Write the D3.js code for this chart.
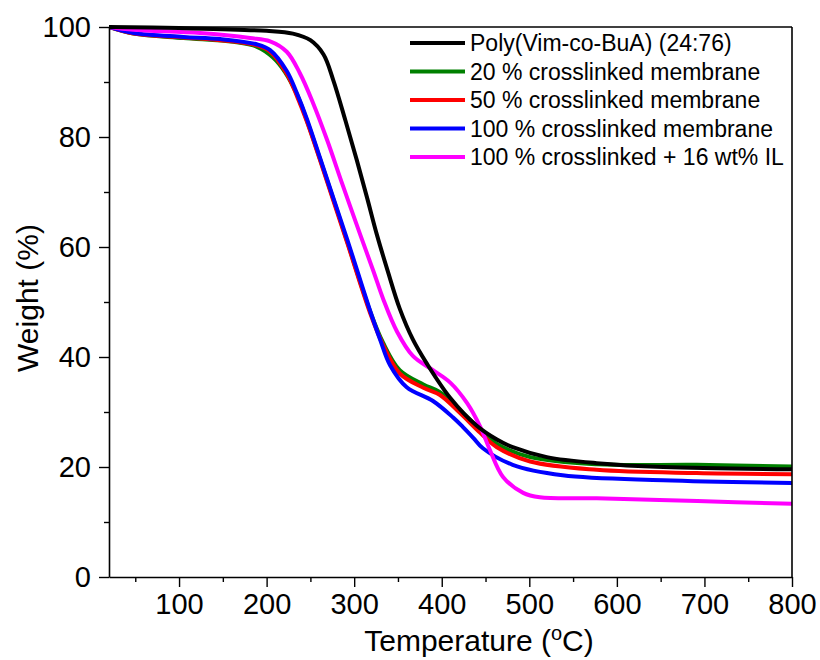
<!DOCTYPE html>
<html>
<head>
<meta charset="utf-8">
<script src="https://cdn.jsdelivr.net/npm/d3@7"></script>
<style>
  body { margin: 0; background: #fff; }
  text { font-family: Arial, "Liberation Sans", sans-serif; fill: #000; }
</style>
</head>
<body>
<svg id="chart" width="820" height="660"></svg>
<script>
// ---- data ----
const seriesNames = [
  "Poly(Vim-co-BuA) (24:76)",
  "20 % crosslinked membrane",
  "50 % crosslinked membrane",
  "100 % crosslinked membrane",
  "100 % crosslinked + 16 wt% IL"
];
const seriesColors = ["#000000", "#008000", "#ff0000", "#0000ff", "#ff00ff"];

const polyT = [20, 100, 200, 230, 250, 265, 276, 290, 303, 315, 326, 338, 352, 367, 383, 410, 440, 463, 481, 520, 577, 653, 800];
const polyW = [100, 99.8, 99.3, 98.8, 97.6, 95, 90.4, 83, 75.8, 68.8, 62.2, 55.8, 48.8, 43.2, 38.8, 32.5, 27.5, 25, 23.6, 21.8, 20.7, 20.0, 19.6];

const cl20T = [20, 48, 105, 162, 189, 207, 221, 235, 246, 261, 276, 292, 318, 333, 352, 379, 398, 421, 444, 463, 501, 577, 691, 800];
const cl20W = [100, 98.8, 98.0, 97.3, 96.4, 94.5, 91.8, 87.6, 83, 76, 68.8, 61, 48.4, 42.6, 37.6, 35, 33.6, 30.3, 26.8, 24.2, 21.8, 20.5, 20.4, 20.1];

const cl50T = [20, 48, 105, 147, 190, 204, 223, 235, 246, 261, 276, 292, 318, 333, 352, 379, 398, 421, 444, 463, 501, 577, 691, 800];
const cl50W = [100, 98.8, 98.1, 97.6, 96.6, 95.5, 91.5, 87.3, 82.8, 75.8, 68.5, 60.8, 48.1, 42.2, 37, 34.4, 33.1, 29.8, 26.2, 23.6, 21, 19.5, 18.9, 18.7];

const cl100T = [20, 48, 105, 147, 190, 204, 223, 235, 246, 261, 276, 292, 318, 330, 341, 360, 390, 413, 424, 436, 447, 481, 538, 653, 800];
const cl100W = [100, 98.9, 98.2, 97.8, 96.8, 95.8, 92.0, 87.8, 83.3, 76.2, 69, 61.4, 48.5, 43, 38.5, 34.5, 32, 29, 27.3, 25.3, 23.4, 20.4, 18.5, 17.6, 17.1];

const ilT = [20, 48, 124, 181, 204, 223, 238, 253, 269, 287, 307, 322, 333, 349, 367, 390, 410, 429, 444, 455, 470, 493, 512, 577, 692, 800];
const ilW = [100, 99.5, 98.9, 98.0, 97.4, 95.5, 91.6, 86.2, 79.5, 71.2, 62.2, 55.6, 50.6, 44.6, 40.2, 37.6, 35.3, 31.6, 27.3, 23.1, 18.2, 15.3, 14.5, 14.3, 13.8, 13.3];

const xTicks = [100, 200, 300, 400, 500, 600, 700, 800];
const xMinorTicks = [50, 150, 250, 350, 450, 550, 650, 750];
const yTicks = [0, 20, 40, 60, 80, 100];
const yMinorTicks = [10, 30, 50, 70, 90];

const xTitle = "Temperature (";
const yTitle = "Weight (%)";

// ---- layout ----
const svg = d3.select("#chart");
const pLeft = 109, pRight = 792, pTop = 27, pBottom = 577;

const x = d3.scaleLinear().domain([20, 800]).range([pLeft, pRight]);
const y = d3.scaleLinear().domain([0, 100]).range([pBottom, pTop]);

const series = [
  { T: polyT, W: polyW },
  { T: cl20T, W: cl20W },
  { T: cl50T, W: cl50W },
  { T: cl100T, W: cl100W },
  { T: ilT, W: ilW }
].map((s, i) => ({
  name: seriesNames[i],
  color: seriesColors[i],
  pts: s.T.map((t, j) => [t, s.W[j]])
}));

// clip
svg.append("defs").append("clipPath").attr("id", "clip")
  .append("rect").attr("x", pLeft).attr("y", pTop - 3).attr("width", pRight - pLeft).attr("height", pBottom - pTop + 3);

const line = d3.line().x(d => x(d[0])).y(d => y(d[1])).curve(d3.curveCatmullRom.alpha(0.5));

// draw order: green, red, blue, magenta, black
const drawOrder = [1, 2, 3, 4, 0];
const g = svg.append("g").attr("clip-path", "url(#clip)");
drawOrder.forEach(i => {
  g.append("path")
    .attr("d", line(series[i].pts))
    .attr("fill", "none")
    .attr("stroke", series[i].color)
    .attr("stroke-width", 4)
    .attr("stroke-linejoin", "round")
    .attr("stroke-linecap", "round");
});

// frame (top & right)
svg.append("line").attr("x1", pLeft).attr("x2", pRight).attr("y1", pTop).attr("y2", pTop)
  .attr("stroke", "#000").attr("stroke-width", 1.6);
svg.append("line").attr("x1", pRight).attr("x2", pRight).attr("y1", pTop).attr("y2", pBottom)
  .attr("stroke", "#000").attr("stroke-width", 1.6);

// axes
function styleAxis(sel) {
  sel.select(".domain").attr("stroke-width", 1.6);
  sel.selectAll(".tick line").attr("stroke-width", 1.4);
}
const xAxis = svg.append("g").attr("transform", `translate(0,${pBottom})`)
  .call(d3.axisBottom(x).tickValues(xTicks).tickSize(10).tickSizeOuter(0).tickPadding(6));
styleAxis(xAxis);
xAxis.selectAll("text").style("font-size", "29px").attr("font-family", "Arial, 'Liberation Sans', sans-serif");
const xMinor = svg.append("g").attr("transform", `translate(0,${pBottom})`)
  .call(d3.axisBottom(x).tickValues(xMinorTicks).tickSize(5).tickFormat(""));
xMinor.select(".domain").remove();
xMinor.selectAll(".tick line").attr("stroke-width", 1.4);

const yAxis = svg.append("g").attr("transform", `translate(${pLeft},0)`)
  .call(d3.axisLeft(y).tickValues(yTicks).tickSize(10).tickSizeOuter(0).tickPadding(8));
styleAxis(yAxis);
yAxis.selectAll("text").style("font-size", "29px").attr("font-family", "Arial, 'Liberation Sans', sans-serif");
const yMinor = svg.append("g").attr("transform", `translate(${pLeft},0)`)
  .call(d3.axisLeft(y).tickValues(yMinorTicks).tickSize(5).tickFormat(""));
yMinor.select(".domain").remove();
yMinor.selectAll(".tick line").attr("stroke-width", 1.4);

// axis titles
const xt = svg.append("text")
  .attr("x", 479).attr("y", 651)
  .attr("text-anchor", "middle")
  .style("font-size", "30px");
xt.append("tspan").text(xTitle);
xt.append("tspan").text("o").attr("dy", -11).style("font-size", "20px");
xt.append("tspan").text("C)").attr("dy", 11);

svg.append("text")
  .attr("transform", "translate(38,298) rotate(-90)")
  .attr("text-anchor", "middle")
  .style("font-size", "30px")
  .text(yTitle);

// legend
const legendOrder = [0, 1, 2, 3, 4];
const lg = svg.append("g");
legendOrder.forEach((i, k) => {
  const cy = 43 + k * 28.5;
  lg.append("line").attr("x1", 410).attr("x2", 465).attr("y1", cy).attr("y2", cy)
    .attr("stroke", series[i].color).attr("stroke-width", 4);
  lg.append("text").attr("x", 470).attr("y", cy).attr("dy", "0.36em")
    .style("font-size", "23px").text(series[i].name);
});
</script>
</body>
</html>
